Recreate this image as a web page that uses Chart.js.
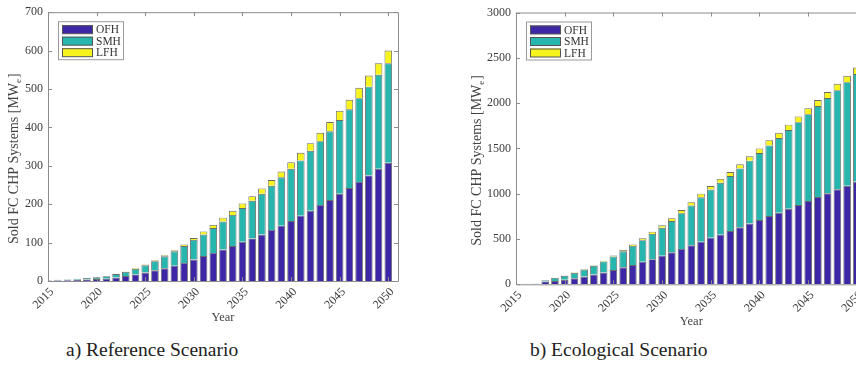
<!DOCTYPE html>
<html>
<head>
<meta charset="utf-8">
<script src="https://cdn.jsdelivr.net/npm/chart.js@4.4.0/dist/chart.umd.min.js"></script>
<style>
  body { margin: 0; width: 856px; height: 375px; overflow: hidden; background: #fff; position: relative; }
  #boxA { position: absolute; left: 0; top: 0; width: 430px; height: 335px; }
  #boxB { position: absolute; left: 430px; top: 0; width: 470px; height: 335px; }
  .cap { position: absolute; top: 339px; font-family: 'Liberation Serif', serif; font-size: 19.5px; color: #222; white-space: nowrap; }
</style>
</head>
<body>
<div id="boxA"><canvas id="refChart" width="430" height="335"></canvas></div>
<div id="boxB"><canvas id="ecoChart" width="470" height="335"></canvas></div>
<div class="cap" style="left:66px">a) Reference Scenario</div>
<div class="cap" style="left:530px">b) Ecological Scenario</div>
<script>
const years = [2015, 2016, 2017, 2018, 2019, 2020, 2021, 2022, 2023, 2024, 2025, 2026,
    2027, 2028, 2029, 2030, 2031, 2032, 2033, 2034, 2035, 2036, 2037, 2038,
    2039, 2040, 2041, 2042, 2043, 2044, 2045, 2046, 2047, 2048, 2049, 2050];

// a) Reference Scenario, MW_e
const refOFH = [1, 1.5, 2, 3, 4, 5, 6, 9, 13, 17, 22, 28, 33, 40, 47, 56, 65, 73,
    82, 91, 102, 111, 121, 133, 144, 156, 170, 183, 198, 211, 227, 242, 258, 275, 292, 308];
const refSMH = [1, 1.5, 2, 3, 4, 4.5, 6.5, 9, 11, 14.5, 19, 23.5, 31.5, 37.5, 44, 51, 56, 65,
    73, 81, 88, 98, 106, 115, 126, 136, 144, 156, 166, 179, 192, 205, 218, 231, 245, 259];
const refLFH = [0, 0, 0, 0, 0, 0.5, 0.5, 1, 1, 1.5, 2, 2.5, 2.5, 2.5, 4, 5, 8, 8,
    10, 11, 12, 12, 14, 15, 15, 17, 20, 20, 22, 24, 24, 25, 27, 29, 30, 33];

// b) Ecological Scenario, MW_e
const ecoOFH = [2, 4, 6, 32, 36, 50, 66, 85, 107, 129, 158, 187, 213, 250, 277, 316, 353, 390,
    430, 471, 515, 548, 588, 629, 670, 709, 754, 790, 834, 875, 919, 963, 1004, 1048, 1088, 1132];
const ecoSMH = [1, 2, 3, 12, 34, 43, 60, 78, 97, 124, 150, 178, 211, 237, 279, 308, 345, 395,
    440, 489, 530, 573, 607, 650, 695, 740, 779, 824, 868, 915, 959, 1004, 1051, 1095, 1143, 1188];
const ecoLFH = [0, 0, 0, 1, 2, 3, 4, 5, 6, 7, 10, 13, 16, 20, 25, 28, 32, 35,
    37, 40, 40, 42, 44, 45, 48, 51, 58, 59, 60, 63, 66, 66, 67, 70, 70, 73];

const yearTicks = [2015, 2020, 2025, 2030, 2035, 2040, 2045, 2050];
const refTicks = [0, 100, 200, 300, 400, 500, 600, 700];
const ecoTicks = [0, 500, 1000, 1500, 2000, 2500, 3000];

const seriesNames = ['OFH', 'SMH', 'LFH'];
const seriesColors = ['#3d27a6', '#27b6ad', '#f6f41c'];

const serif = "'Liberation Serif', 'Times New Roman', serif";
const axisGrey = '#8c8c8c';

function makeSets(lists) {
    return lists.map((vals, k) => ({
        label: seriesNames[k],
        data: years.map((yr, i) => ({ x: yr, y: vals[i] })),
        backgroundColor: seriesColors[k],
        borderColor: '#6a6a6a',
        borderWidth: 0.9,
        barPercentage: 0.78,
        categoryPercentage: 1
    }));
}

// MATLAB style box, inward ticks, legend and axis titles
const matlabLook = {
    id: 'matlabLook',
    afterDatasetsDraw(chart, args, opts) {
        const ctx = chart.ctx;
        const a = chart.chartArea;
        const xs = chart.scales.x, ys = chart.scales.y;
        ctx.save();
        ctx.strokeStyle = axisGrey;
        ctx.lineWidth = 1;
        ctx.beginPath();
        ctx.rect(a.left + 0.5, a.top + 0.5, a.right - a.left, a.bottom - a.top);
        xs.ticks.forEach(t => {
            const px = Math.round(xs.getPixelForValue(t.value)) + 0.5;
            ctx.moveTo(px, a.top); ctx.lineTo(px, a.top + 4);
            ctx.moveTo(px, a.bottom); ctx.lineTo(px, a.bottom - 4);
        });
        ys.ticks.forEach(t => {
            const py = Math.round(ys.getPixelForValue(t.value)) + 0.5;
            ctx.moveTo(a.left, py); ctx.lineTo(a.left + 4, py);
            ctx.moveTo(a.right, py); ctx.lineTo(a.right - 4, py);
        });
        ctx.stroke();

        // legend
        const lx = a.left + 10, ly = a.top + 9;
        ctx.fillStyle = '#fff';
        ctx.fillRect(lx, ly, 65, 38);
        ctx.strokeStyle = '#9a9a9a';
        ctx.strokeRect(lx + 0.5, ly + 0.5, 65, 38);
        ctx.font = '11.5px ' + serif;
        ctx.textBaseline = 'middle';
        chart.data.datasets.forEach((ds, k) => {
            const ry = ly + 4 + k * 11.5;
            ctx.fillStyle = ds.backgroundColor;
            ctx.fillRect(lx + 4, ry, 31, 8.5);
            ctx.strokeStyle = '#555';
            ctx.strokeRect(lx + 4.5, ry + 0.5, 30, 8);
            ctx.fillStyle = '#333';
            ctx.fillText(ds.label, lx + 38, ry + 5);
        });

        // x title
        ctx.fillStyle = '#444';
        ctx.font = '12.5px ' + serif;
        ctx.textAlign = 'center';
        ctx.fillText('Year', (a.left + a.right) / 2, a.bottom + 37);

        // y title with subscript e
        const main = 'Sold FC CHP Systems [MW';
        ctx.font = '14px ' + serif;
        const w1 = ctx.measureText(main).width;
        ctx.font = '9px ' + serif;
        const w2 = ctx.measureText('e').width;
        ctx.font = '14px ' + serif;
        const w3 = ctx.measureText(']').width;
        const total = w1 + w2 + 1 + w3;
        ctx.translate(opts.titleX, (a.top + a.bottom) / 2 + 12);
        ctx.rotate(-Math.PI / 2);
        ctx.textAlign = 'left';
        ctx.textBaseline = 'alphabetic';
        const x0 = -total / 2;
        ctx.fillText(main, x0, 5);
        ctx.font = '9px ' + serif;
        ctx.fillText('e', x0 + w1, 8);
        ctx.font = '14px ' + serif;
        ctx.fillText(']', x0 + w1 + w2 + 1, 5);
        ctx.restore();
    }
};

function makeChart(id, lists, yTicks, yMax, pad, yWidth, xHeight, titleX) {
    return new Chart(document.getElementById(id), {
        type: 'bar',
        data: { datasets: makeSets(lists) },
        options: {
            responsive: false,
            animation: false,
            layout: { padding: pad },
            plugins: {
                legend: { display: false },
                tooltip: { enabled: false },
                matlabLook: { titleX: titleX }
            },
            scales: {
                x: {
                    type: 'linear',
                    stacked: true,
                    offset: false,
                    min: 2015,
                    max: 2051,
                    grid: { display: false, drawTicks: false },
                    border: { display: false },
                    afterBuildTicks: s => { s.ticks = yearTicks.map(v => ({ value: v })); },
                    afterFit: s => { s.height = xHeight; s.paddingLeft = 0; s.paddingRight = 0; },
                    ticks: {
                        autoSkip: false,
                        minRotation: 45,
                        maxRotation: 45,
                        padding: 4,
                        labelOffset: 4,
                        color: '#3c3c3c',
                        font: { family: serif, size: 12 },
                        callback: v => String(v)
                    }
                },
                y: {
                    stacked: true,
                    min: 0,
                    max: yMax,
                    grid: { display: false, drawTicks: false },
                    border: { display: false },
                    afterBuildTicks: s => { s.ticks = yTicks.map(v => ({ value: v })); },
                    afterFit: s => { s.width = yWidth; },
                    ticks: {
                        padding: 5,
                        color: '#3c3c3c',
                        font: { family: serif, size: 12 },
                        callback: v => String(v)
                    }
                }
            }
        },
        plugins: [matlabLook]
    });
}

makeChart('refChart', [refOFH, refSMH, refLFH], refTicks, 700,
    { top: 10, right: 32, left: 0, bottom: 0 }, 48, 54, 13);
makeChart('ecoChart', [ecoOFH, ecoSMH, ecoLFH], ecoTicks, 3000,
    { top: 12.5, right: 33.4, left: 0, bottom: 0 }, 86, 50.7, 46);
</script>
</body>
</html>
